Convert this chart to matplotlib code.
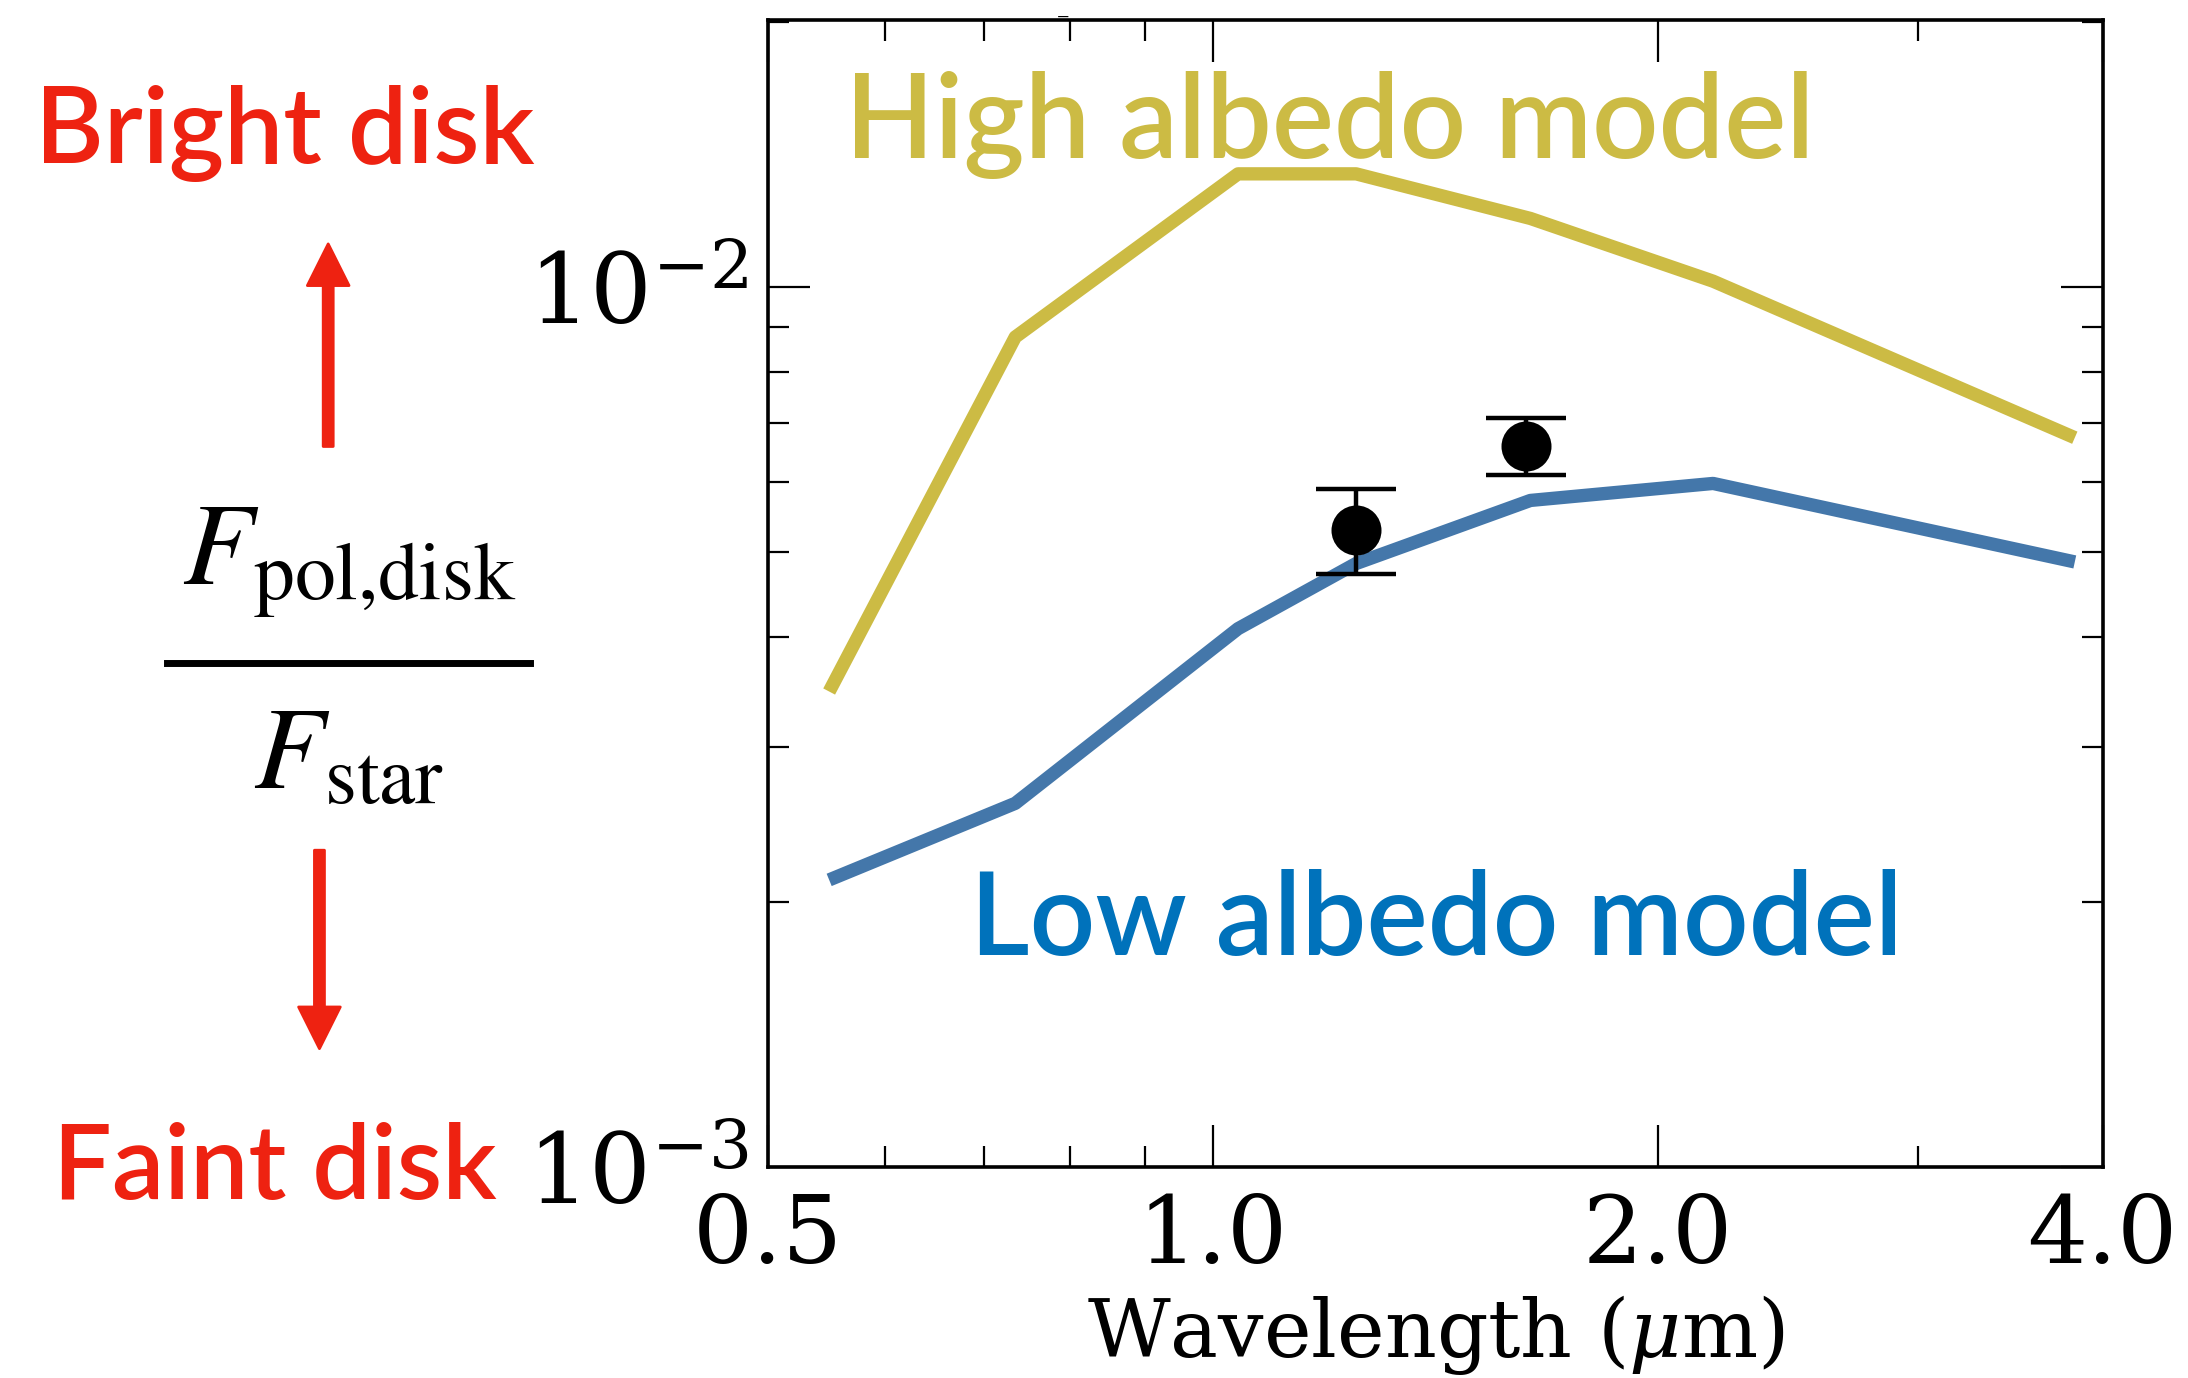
import matplotlib
matplotlib.use("Agg")
import matplotlib.pyplot as plt
from matplotlib.lines import Line2D
from matplotlib.ticker import FixedLocator, FormatStrFormatter, LogLocator, NullFormatter

# model curves (polarized disk / star flux ratio)
wavelength = [0.55, 0.735, 1.04, 1.25, 1.64, 2.18, 3.83]
high_albedo = [3.47e-3, 8.77e-3, 1.344e-2, 1.344e-2, 1.196e-2, 1.015e-2, 6.74e-3]
low_albedo = [2.12e-3, 2.59e-3, 4.09e-3, 4.85e-3, 5.72e-3, 5.98e-3, 4.87e-3]

# observed points
obs_wavelength = [1.25, 1.63]
obs_flux = [5.30e-3, 6.60e-3]
obs_err_lo = [0.58e-3, 0.49e-3]
obs_err_hi = [0.59e-3, 0.50e-3]

x_ticks = [0.5, 1.0, 2.0, 4.0]

high_col = "#CCBB44"
low_col = "#4477AA"
low_txt = "#0072BB"
red = "#EE2211"
label_font = ["Lato", "DejaVu Sans"]

plt.rcParams["font.family"] = "DejaVu Serif"
plt.rcParams["mathtext.fontset"] = "dejavuserif"

fig = plt.figure(figsize=(10.94, 6.89), dpi=200)
ax = fig.add_axes([0.351, 0.153, 0.610, 0.8325])

ax.plot(wavelength, high_albedo, color=high_col, lw=4.8, solid_capstyle="butt")
ax.plot(wavelength, low_albedo, color=low_col, lw=4.8, solid_capstyle="butt")
ax.errorbar(obs_wavelength, obs_flux, yerr=[obs_err_lo, obs_err_hi], fmt="o",
            color="black", ms=17, elinewidth=1.6, capsize=14.5, capthick=1.6, zorder=5)

ax.set_xscale("log")
ax.set_yscale("log")
ax.set_xlim(0.5, 4.0)
ax.set_ylim(1e-3, 2.01e-2)

ax.xaxis.set_major_locator(FixedLocator(x_ticks))
ax.xaxis.set_major_formatter(FormatStrFormatter("%.1f"))
ax.xaxis.set_minor_locator(LogLocator(base=10, subs=[0.6, 0.7, 0.8, 0.9, 3.0]))
ax.xaxis.set_minor_formatter(NullFormatter())
ax.yaxis.set_minor_locator(LogLocator(base=10, subs=range(2, 10)))
ax.yaxis.set_minor_formatter(NullFormatter())

ax.tick_params(which="both", direction="in", top=True, right=True)
ax.tick_params(which="major", length=15, width=0.8)
ax.tick_params(which="minor", length=7.5, width=0.8)
ax.tick_params(axis="x", which="major", labelsize=34, pad=9)
ax.tick_params(axis="y", which="major", labelsize=35, pad=7)
for s in ax.spines.values():
    s.set_linewidth(1.3)

ax.set_xlabel(r"Wavelength ($\mu$m)", fontsize=29, labelpad=4)

ax.text(0.0575, 0.8796, "High albedo model", transform=ax.transAxes, color=high_col,
        fontsize=42, family=label_font, weight="semibold", va="baseline", ha="left")
ax.text(0.1515, 0.185, "Low albedo model", transform=ax.transAxes, color=low_txt,
        fontsize=41.5, family=label_font, weight="semibold", va="baseline", ha="left")

# left side annotation
fig.text(0.016, 0.8816, "Bright disk", color=red, fontsize=38, family=label_font,
         weight="semibold", va="baseline", ha="left")
fig.text(0.024, 0.1296, "Faint disk", color=red, fontsize=37.5, family=label_font,
         weight="semibold", va="baseline", ha="left")

fig.text(0.1595, 0.575, r"$F_{\rm pol{,}disk}$", fontsize=42, math_fontfamily="stix",
         ha="center", va="baseline")
fig.text(0.1595, 0.428, r"$F_{\rm star}$", fontsize=42, math_fontfamily="stix",
         ha="center", va="baseline")
fig.add_artist(Line2D([0.0765, 0.2423], [0.519, 0.519], transform=fig.transFigure,
                      color="black", lw=2.5))

arrow = dict(facecolor=red, edgecolor=red, width=3.6, headwidth=15, headlength=15, shrink=0)
ax.annotate("", xy=(0.150, 0.823), xytext=(0.150, 0.676), xycoords="figure fraction",
            textcoords="figure fraction", arrowprops=arrow, annotation_clip=False)
ax.annotate("", xy=(0.146, 0.239), xytext=(0.146, 0.383), xycoords="figure fraction",
            textcoords="figure fraction", arrowprops=arrow, annotation_clip=False)

fig.text(0.486, 0.988, "\u2013", fontsize=9, ha="center", va="center")

fig.savefig("out.png", dpi=200)
